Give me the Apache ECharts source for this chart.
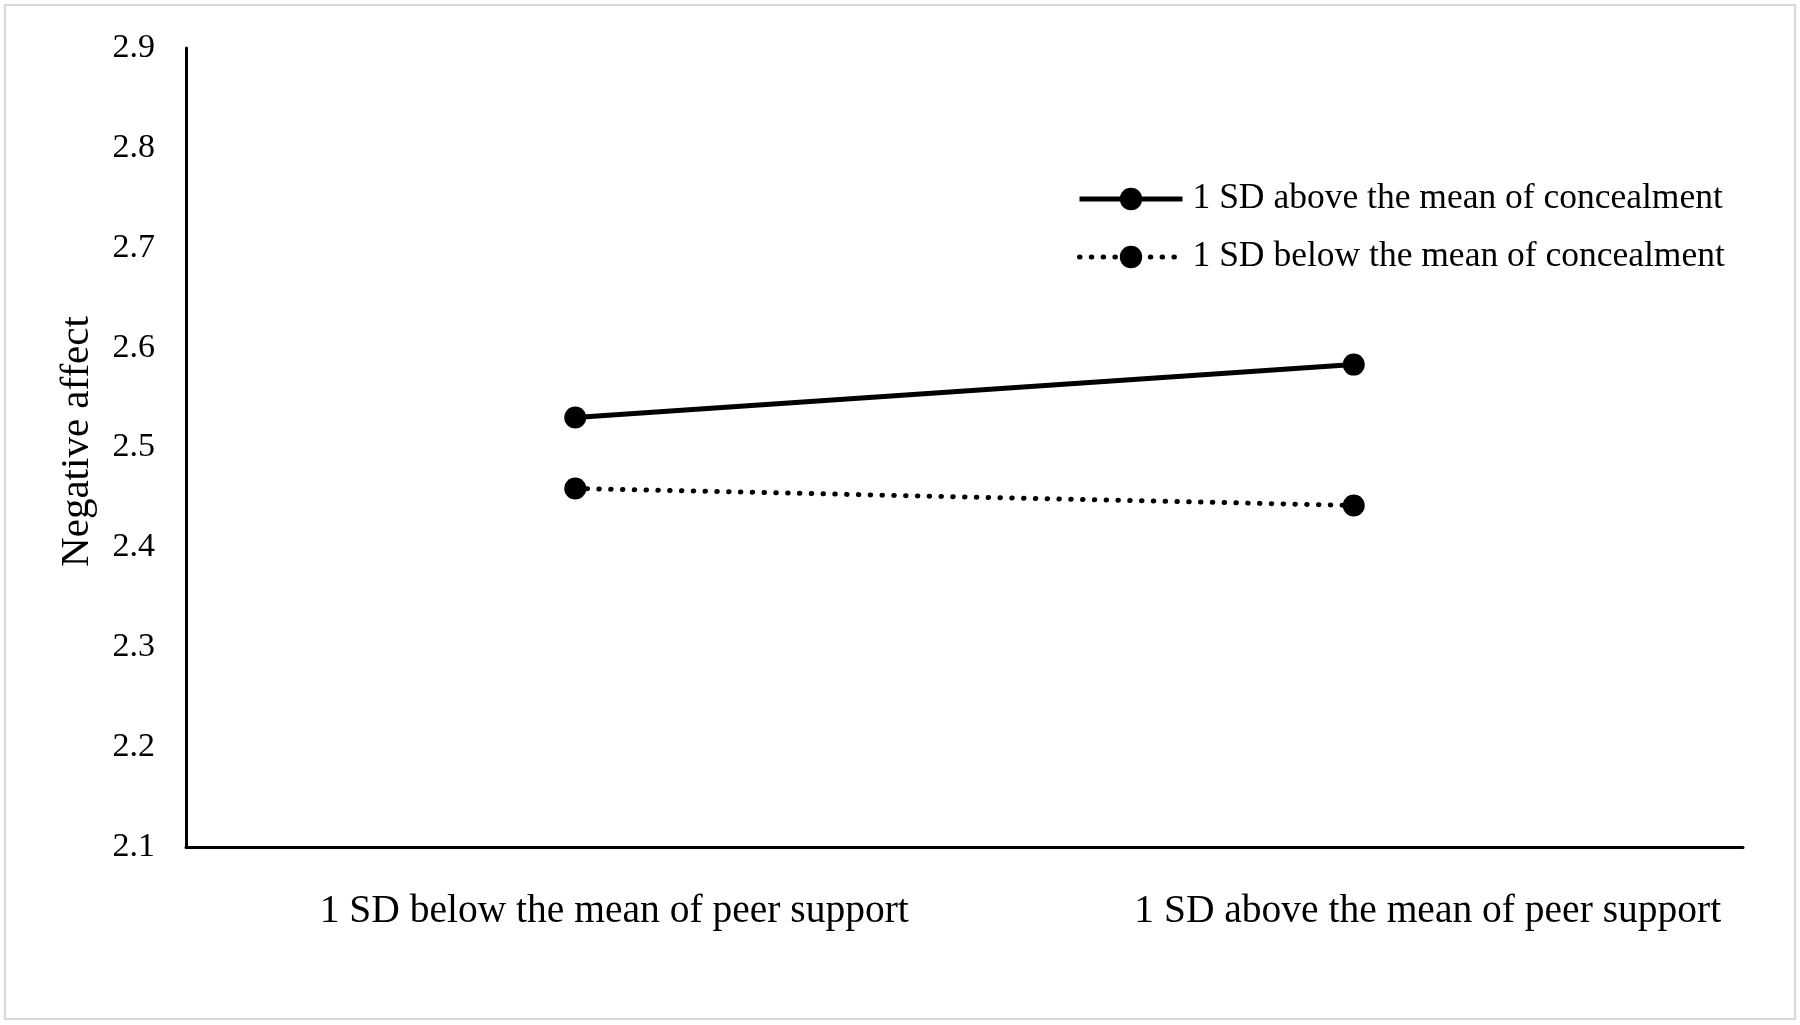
<!DOCTYPE html>
<html>
<head>
<meta charset="utf-8">
<script src="https://cdn.jsdelivr.net/npm/echarts@6/dist/echarts.min.js"></script>
<style>
html,body{margin:0;padding:0;background:#fff;}
#chart{width:1800px;height:1025px;}
</style>
</head>
<body>
<div id="chart"></div>
<script>
const categories = ['1 SD below the mean of peer support', '1 SD above the mean of peer support'];
const seriesNames = ['1 SD above the mean of concealment', '1 SD below the mean of concealment'];
const highConcealment = [2.530, 2.583];
const lowConcealment = [2.459, 2.442];
const yMin = 2.1, yMax = 2.9, yStep = 0.1;
const yTitle = 'Negative affect';

const FONT = '"Liberation Serif", "Times New Roman", serif';
const DOTS = [0.5, 11.3];
const chart = echarts.init(document.getElementById('chart'));
chart.setOption({
  backgroundColor: '#fff',
  animation: false,
  textStyle: { fontFamily: FONT, color: '#000' },
  graphic: [{
    type: 'rect',
    shape: { x: 5, y: 5, width: 1790, height: 1014 },
    style: { fill: 'none', stroke: '#d9d9d9', lineWidth: 2 },
    silent: true
  }],
  grid: { left: 186, right: 57, top: 48, bottom: 178, containLabel: false },
  legend: {
    orient: 'vertical',
    left: 1077,
    top: 181,
    padding: 0,
    itemWidth: 103,
    itemHeight: 28,
    itemGap: 22,
    data: [
      { name: seriesNames[0], lineStyle: { width: 5, color: '#000' } },
      { name: seriesNames[1], lineStyle: { width: 5, color: '#000', type: DOTS, cap: 'round' } }
    ],
    textStyle: { fontFamily: FONT, fontSize: 35.5, color: '#000', lineHeight: 36, padding: [0, 0, 0, 5] }
  },
  xAxis: {
    type: 'category',
    data: categories,
    boundaryGap: true,
    axisLine: { lineStyle: { color: '#000', width: 3 } },
    axisTick: { show: false },
    splitLine: { show: false },
    axisLabel: {
      margin: 45,
      interval: 0,
      formatter: function (v, i) { return i === 0 ? '{a|' + v + '}' : '{b|' + v + '}'; },
      rich: {
        a: { fontFamily: FONT, fontSize: 39.5, color: '#000', padding: [0, 0, 0, 78] },
        b: { fontFamily: FONT, fontSize: 39.5, color: '#000', padding: [0, 0, 0, 148] }
      }
    }
  },
  yAxis: {
    type: 'value',
    min: yMin,
    max: yMax,
    interval: yStep,
    name: yTitle,
    nameLocation: 'middle',
    nameGap: 88,
    nameRotate: 90,
    nameTextStyle: { fontFamily: FONT, fontSize: 41, color: '#000', padding: [0, 0, 0, 12] },
    axisLine: { show: true, lineStyle: { color: '#000', width: 3 } },
    axisTick: { show: false },
    splitLine: { show: false },
    axisLabel: {
      margin: 31,
      fontFamily: FONT, fontSize: 34, color: '#000',
      formatter: function (v) { return v.toFixed(1); }
    }
  },
  series: [
    {
      name: seriesNames[0],
      type: 'line',
      data: highConcealment,
      symbol: 'circle',
      symbolSize: 22,
      itemStyle: { color: '#000' },
      lineStyle: { color: '#000', width: 5 }
    },
    {
      name: seriesNames[1],
      type: 'line',
      data: lowConcealment,
      symbol: 'circle',
      symbolSize: 22,
      itemStyle: { color: '#000' },
      lineStyle: { color: '#000', width: 5, type: DOTS, cap: 'round' }
    }
  ]
});
</script>
</body>
</html>
